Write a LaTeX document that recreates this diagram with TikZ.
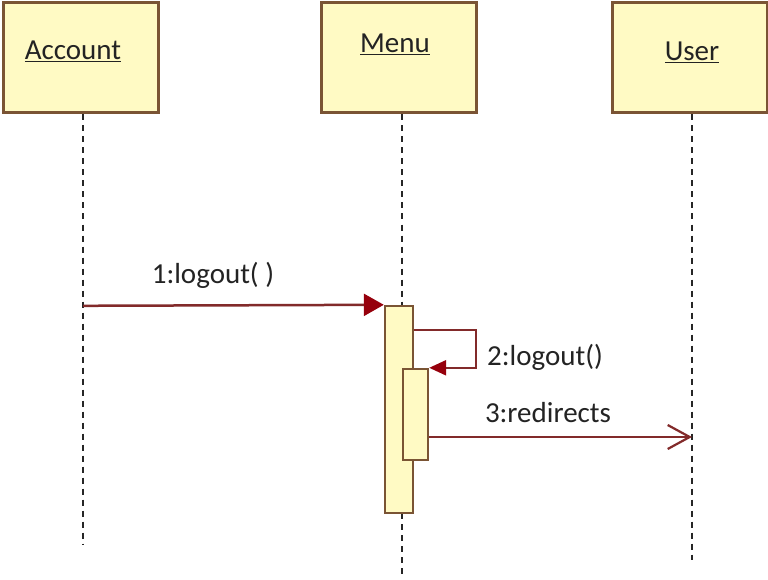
\documentclass[tikz,border=0pt]{standalone}
\usepackage{fontspec}
\setmainfont{Carlito}
\usetikzlibrary{arrows.meta}
\definecolor{boxfill}{RGB}{255,250,196}
\definecolor{boxline}{RGB}{122,84,52}
\definecolor{msgline}{RGB}{130,42,42}
\definecolor{tipred}{RGB}{150,0,12}
\definecolor{textc}{RGB}{35,35,35}
\tikzset{
  objbox/.style={draw=boxline, line width=3pt, fill=boxfill,
    minimum width=155pt, minimum height=110pt, inner sep=0pt},
  actbar/.style={draw=boxline, line width=2.4pt, fill=boxfill, inner sep=0pt},
  lifeline/.style={draw=black!85, line width=2.2pt, dash pattern=on 6pt off 5pt},
  msg/.style={draw=msgline, line width=2.5pt},
  synctip/.style={-{Triangle[length=20pt, width=22pt, color=tipred]}},
  selftip/.style={-{Triangle[length=17pt, width=15pt, color=tipred]}},
  asynctip/.style={-{Straight Barb[length=22pt, width=24pt, line width=2.2pt]}},
  bigtext/.style={text=textc, font=\fontsize{29}{34}\selectfont, inner sep=0pt, anchor=base},
}
\begin{document}
\begin{tikzpicture}[x=1pt, y=-1pt]
\useasboundingbox (0,0) rectangle (768,580);
\fill[white] (0,0) rectangle (768,580);

% object heads
\node[objbox] (account) at (80.5,58) {};
\node[objbox] (menu) at (398.5,58) {};
\node[objbox] (user) at (689.5,58) {};
\node[bigtext] (accountname) at (73,60) {\underline{Account}};
\node[bigtext] (menuname) at (395,53) {\underline{Menu}};
\node[bigtext] (username) at (692,61) {\underline{User}};

% lifeline ends
\coordinate (accend) at (83,545);
\coordinate (menuend) at (402,578);
\coordinate (userend) at (692,560);

% activation bar outline, used as an anchor for the lifelines
\path (399,409.5) node[minimum width=28pt, minimum height=207pt, inner sep=0pt] (menubar) {};

% lifelines
\draw[lifeline] (account.south -| accend) -- (accend);
\draw[lifeline] (menu.south -| menuend) -- (menubar.north -| menuend);
\draw[lifeline] (menubar.south -| menuend) -- (menuend);
\draw[lifeline] (user.south -| userend) -- (userend);

% activation bars
\node[actbar, minimum width=28pt, minimum height=207pt] (menubartop) at (399,409.5) {};
\node[actbar, minimum width=25pt, minimum height=91pt] (innerbar) at (415.5,414.5) {};

% 1: logout
\draw[msg, synctip] (accend |- menubar.north) -- (menubartop.north west);
\node[bigtext] (m1text) at (213,283) {1:logout( )};

% 2: self call
\coordinate (loopcorner) at (476,330);
\draw[msg, selftip] (menubartop.east |- loopcorner) -- (loopcorner)
  |- (innerbar.north east);
\node[bigtext] (m2text) at (545,365) {2:logout()};

% 3: redirects
\coordinate (m3end) at (692,437);
\draw[msg, asynctip] (innerbar.east |- m3end) -- (m3end);
\node[bigtext] (m3text) at (548,422) {3:redirects};
\end{tikzpicture}
\end{document}
